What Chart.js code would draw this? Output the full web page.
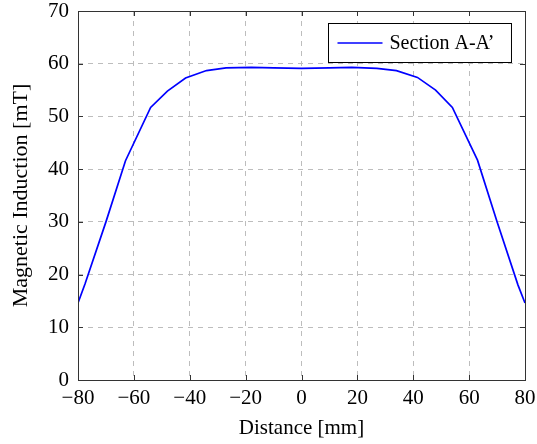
<!DOCTYPE html>
<html lang="en">
<head>
  <meta charset="UTF-8" />
  <title>Magnetic Induction - Section A-A'</title>
  <script src="https://cdn.jsdelivr.net/npm/chart.js"></script>
  <style>
    html, body { margin: 0; padding: 0; background: #fff; }
    #wrap { width: 537px; height: 444px; }
  </style>
</head>
<body>
  <div id="wrap"><canvas id="grafico"></canvas></div>
  <script>
    // values
    const distancia = [-80, -77.5, -70, -63, -54, -48, -41.5, -34, -27, -18, -10, 0, 10, 18, 27, 34, 41.5, 48, 54, 63, 70, 77.5, 80];
    const inducao   = [14.6, 18.2, 30.0, 41.6, 51.7, 54.8, 57.3, 58.7, 59.2, 59.3, 59.2, 59.1, 59.2, 59.3, 59.1, 58.7, 57.4, 55.0, 51.7, 41.7, 30.0, 18.0, 14.6];
    const ticksX = [-80, -60, -40, -20, 0, 20, 40, 60, 80];
    const ticksY = [0, 10, 20, 30, 40, 50, 60, 70];
    const rotulo = "Section A-A\u2019";

    const fonte = "'Liberation Serif', 'Times New Roman', serif";
    const corEixo = "#333";

    function menos(v) {
      return v < 0 ? "\u2212" + Math.abs(v) : String(v);
    }

    // frame, inward ticks on the four sides and the boxed legend
    const moldura = {
      id: "moldura",
      afterDraw(chart) {
        const ctx = chart.ctx;
        const a = chart.chartArea;
        const sx = chart.scales.x, sy = chart.scales.y;
        const t = 5;
        ctx.save();
        ctx.strokeStyle = corEixo;
        ctx.lineWidth = 1;
        ctx.beginPath();
        ticksX.forEach(v => {
          const px = Math.round(sx.getPixelForValue(v)) + 0.5;
          ctx.moveTo(px, a.bottom); ctx.lineTo(px, a.bottom - t);
          ctx.moveTo(px, a.top); ctx.lineTo(px, a.top + t);
        });
        ticksY.forEach(v => {
          const py = Math.round(sy.getPixelForValue(v)) + 0.5;
          ctx.moveTo(a.left, py); ctx.lineTo(a.left + t, py);
          ctx.moveTo(a.right, py); ctx.lineTo(a.right - t, py);
        });
        ctx.stroke();
        ctx.strokeRect(Math.round(a.left) + 0.5, Math.round(a.top) + 0.5,
                       Math.round(a.right - a.left), Math.round(a.bottom - a.top));

        // legend
        const ds = chart.data.datasets[0];
        ctx.font = "20px " + fonte;
        const tw = ctx.measureText(ds.label).width;
        const w = 9 + 45 + 7 + tw + 17;
        const h = 39;
        const x0 = Math.round(a.right - 14 - w) + 0.5;
        const y0 = Math.round(a.top + 12) + 0.5;
        ctx.fillStyle = "#fff";
        ctx.fillRect(x0, y0, w, h);
        ctx.strokeStyle = "#000";
        ctx.strokeRect(x0, y0, w, h);
        ctx.strokeStyle = ds.borderColor;
        ctx.lineWidth = ds.borderWidth;
        ctx.beginPath();
        ctx.moveTo(x0 + 9, y0 + h / 2);
        ctx.lineTo(x0 + 54, y0 + h / 2);
        ctx.stroke();
        ctx.fillStyle = "#000";
        ctx.textBaseline = "middle";
        ctx.fillText(ds.label, x0 + 61, y0 + h / 2 + 1);
        ctx.restore();
      }
    };

    new Chart(document.getElementById("grafico"), {
      type: "line",
      data: {
        datasets: [{
          label: rotulo,
          data: distancia.map((d, i) => ({ x: d, y: inducao[i] })),
          borderColor: "#0000ff",
          borderWidth: 1.7,
          pointRadius: 0,
          tension: 0,
          fill: false
        }]
      },
      options: {
        responsive: true,
        maintainAspectRatio: false,
        animation: false,
        layout: { padding: { top: 11, right: 12, left: 0, bottom: 0 } },
        plugins: {
          legend: { display: false },
          tooltip: { enabled: false }
        },
        scales: {
          x: {
            type: "linear",
            min: -80,
            max: 80,
            afterFit: s => {
              s.height = 64;
              s.paddingLeft = 0;
              s.paddingRight = 0;
            },
            afterBuildTicks: s => { s.ticks = ticksX.map(v => ({ value: v })); },
            ticks: {
              color: "#000",
              padding: 6,
              maxRotation: 0,
              font: { family: fonte, size: 21 },
              callback: v => menos(v)
            },
            grid: { color: "#bdbdbd", drawTicks: false },
            border: { display: false, dash: [5, 5] },
            title: {
              display: true,
              text: "Distance [mm]",
              color: "#000",
              font: { family: fonte, size: 21 },
              padding: { top: 0, bottom: 3 }
            }
          },
          y: {
            type: "linear",
            min: 0,
            max: 70,
            afterFit: s => {
              s.width = 78;
              s.paddingTop = 0;
              s.paddingBottom = 0;
            },
            afterBuildTicks: s => { s.ticks = ticksY.map(v => ({ value: v })); },
            ticks: {
              color: "#000",
              padding: 9,
              font: { family: fonte, size: 21 },
              callback: v => menos(v)
            },
            grid: { color: "#bdbdbd", drawTicks: false },
            border: { display: false, dash: [5, 5] },
            title: {
              display: true,
              text: "Magnetic Induction [mT]",
              color: "#000",
              font: { family: fonte, size: 22 },
              padding: { top: 8, bottom: 0 }
            }
          }
        }
      },
      plugins: [moldura]
    });
  </script>
</body>
</html>
